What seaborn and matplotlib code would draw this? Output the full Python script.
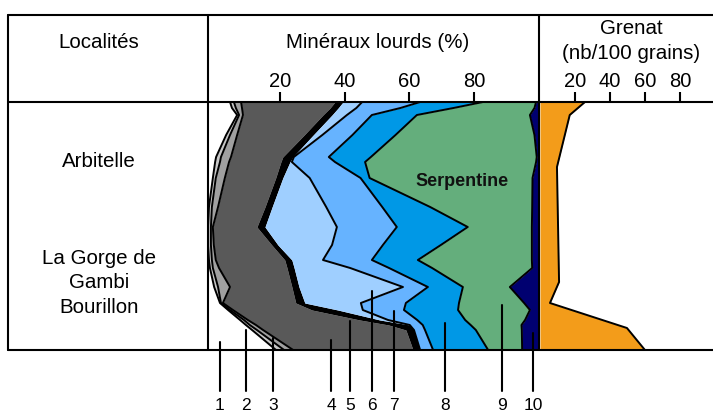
import numpy as np
import matplotlib.pyplot as plt
import seaborn as sns

sns.set_theme(style="white")
plt.rcParams['font.family'] = ['Liberation Sans', 'DejaVu Sans']
plt.rcParams['text.color'] = 'black'
plt.rcParams['xtick.color'] = 'black'

# --- DONNEES ---
# profondeur relative des niveaux echantillonnes (0 = haut de la colonne)
profondeur = [0, 6, 13, 33, 55, 60, 76, 105, 125, 143, 158, 166, 185, 201, 208, 218, 223, 228, 248]

# mineraux lourds (%) par classe 1 a 10
classe_1 = [6.8, 7.4, 9.0, 5.6, 2.5, 2.2, 1.5, 0.3, 0.0, 0.0, 0.3, 0.6, 1.9, 3.7, 6.2, 9.9, 11.7, 13.6, 21.0]
classe_2 = [1.2, 1.2, 0.6, 1.2, 1.5, 1.5, 0.9, 0.9, 0.9, 0.9, 0.9, 0.9, 1.2, 0.3, 0.6, 1.2, 1.2, 1.5, 2.5]
classe_3 = [2.2, 1.9, 1.2, 2.2, 3.1, 2.8, 2.8, 1.9, 0.6, 0.9, 1.2, 1.9, 3.7, 0.6, 0.9, 1.2, 1.9, 1.9, 2.8]
classe_4 = [29.0, 27.2, 24.7, 20.7, 16.0, 16.0, 15.7, 14.5, 13.6, 17.9, 21.3, 21.0, 19.1, 22.5, 24.4, 34.6, 41.0, 44.1, 37.0]
classe_5 = [2.5, 2.5, 2.8, 2.8, 3.1, 2.8, 2.2, 2.2, 2.5, 1.9, 2.2, 2.2, 2.2, 2.8, 8.0, 6.2, 6.5, 2.5, 2.2]
classe_6 = [5.9, 5.6, 4.6, 2.8, 0.3, 0.6, 8.3, 16.7, 22.2, 16.7, 9.6, 17.3, 32.1, 17.3, 7.7, 2.5, 0.0, 0.0, 0.0]
classe_7 = [17.9, 13.6, 7.7, 9.3, 10.8, 13.3, 15.7, 17.3, 18.5, 15.7, 15.1, 12.0, 7.7, 13.9, 12.7, 9.0, 4.0, 3.4, 4.0]
classe_8 = [19.4, 16.4, 13.9, 13.3, 13.0, 9.3, 2.8, 14.8, 21.9, 17.9, 14.2, 13.3, 10.8, 16.4, 16.7, 14.8, 14.8, 15.7, 17.0]
classe_9 = [16.4, 25.0, 34.9, 42.9, 51.2, 52.8, 50.3, 31.5, 19.8, 28.1, 35.2, 30.9, 14.5, 20.1, 22.2, 18.5, 15.7, 14.2, 10.5]
classe_10 = [0.9, 1.5, 2.8, 1.5, 0.6, 0.9, 1.9, 2.2, 2.2, 2.2, 2.2, 2.2, 9.0, 4.6, 2.8, 4.3, 5.2, 5.2, 5.2]

# grenat (nb/100 grains)
grenat_prof = [0, 13, 65, 180, 201, 226, 248]
grenat = [25.7, 17.0, 9.7, 10.9, 5.7, 49.7, 60.0]

ticks_min = [20, 40, 60, 80]
ticks_gr = [20, 40, 60, 80]
etiquettes = ['1', '2', '3', '4', '5', '6', '7', '8', '9', '10']

couleurs = ['#FFFFFF', '#C8C8C8', '#A0A0A0', '#595959', '#000000',
            '#9FCFFF', '#66B3FF', '#0098E6', '#64AE7C', '#000070']

# --- MISE EN PAGE (pixels) ---
W, H = 713, 412
X0 = -2.2   # bord gauche du panneau mineraux
FS = 14.8   # en-tetes et localites
FT = 14.5   # graduations


def rect(x0, y0, x1, y1):
    return [x0 / W, 1 - y1 / H, (x1 - x0) / W, (y1 - y0) / H]


fig = plt.figure(figsize=(W / 100, H / 100), dpi=100)
ax = fig.add_axes(rect(208, 102, 539, 350))
axg = fig.add_axes(rect(540, 102, 713, 350))

# --- MINERAUX LOURDS : aires empilees ---
classes = [classe_1, classe_2, classe_3, classe_4, classe_5,
           classe_6, classe_7, classe_8, classe_9, classe_10]
cum = X0 + np.cumsum(np.array(classes), axis=0)
gauche = np.full(len(profondeur), X0)
for i, c in enumerate(couleurs):
    droite = cum[i] if i < 9 else np.full(len(profondeur), 101)
    ax.fill_betweenx(profondeur, gauche, droite, color=c, linewidth=0)
    gauche = cum[i]

for i in [0, 1, 2, 5, 6, 7, 8]:
    sns.lineplot(x=cum[i], y=profondeur, orient='y', color='black',
                 linewidth=1.4, legend=False, ax=ax)

ax.set_xlim(X0, 100)
ax.set_ylim(248, 0)
ax.set_xlabel('')
ax.set_ylabel('')
ax.xaxis.tick_top()
ax.set_xticks(ticks_min)
ax.set_xticklabels([str(t) for t in ticks_min])
ax.set_yticks([])
ax.tick_params(axis='x', top=True, bottom=False, direction='out', length=7.5,
               width=1.5, color='black', labelsize=FT, pad=0.5, labelcolor='black')
for s in ax.spines.values():
    s.set_visible(False)
ax.text(76.2, 79, 'Serpentine', fontsize=13, fontweight='bold',
        ha='center', va='center', color='#111111')

# --- GRENAT ---
axg.fill_betweenx(grenat_prof, 0, grenat, color='#F39C1A', linewidth=0)
sns.lineplot(x=grenat, y=grenat_prof, orient='y', color='black',
             linewidth=1.4, legend=False, ax=axg)
axg.set_xlim(0, 98.9)
axg.set_ylim(248, 0)
axg.set_xlabel('')
axg.set_ylabel('')
axg.xaxis.tick_top()
axg.set_xticks(ticks_gr)
axg.set_xticklabels([str(t) for t in ticks_gr])
axg.set_yticks([])
axg.tick_params(axis='x', top=True, bottom=False, direction='out', length=7.5,
                width=1.5, color='black', labelsize=FT, pad=0.5, labelcolor='black')
for s in axg.spines.values():
    s.set_visible(False)

# --- CADRE, EN-TETES ET ETIQUETTES ---
ov = fig.add_axes([0, 0, 1, 1], zorder=5)
ov.set_xlim(0, W)
ov.set_ylim(H, 0)
ov.axis('off')
ov.patch.set_alpha(0)

lw = 1.5
for y in [15, 102, 350]:
    ov.plot([8, W], [y, y], color='black', lw=lw)
for x in [8, 208, 539]:
    ov.plot([x, x], [15, 350], color='black', lw=lw)

ov.text(99, 42, 'Localités', fontsize=FS, ha='center', va='center')
ov.text(378, 42, 'Minéraux lourds (%)', fontsize=FS, ha='center', va='center')
ov.text(631, 28, 'Grenat', fontsize=FS, ha='center', va='center')
ov.text(631, 53, '(nb/100 grains)', fontsize=FS, ha='center', va='center')
ov.text(99, 161, 'Arbitelle', fontsize=FS, ha='center', va='center')
ov.text(99, 283, 'La Gorge de\nGambi\nBourillon', fontsize=FS, ha='center',
        va='center', linespacing=1.36)

# numeros des classes avec traits de rappel
label_x = [220, 246, 273, 331, 350, 372, 394, 445, 502, 533]
label_top = [342, 330, 338, 340, 321, 291, 311, 323, 305, 333]
for x, yt, t in zip(label_x, label_top, etiquettes):
    ov.plot([x, x], [yt, 391], color='black', lw=1.5)
    ov.text(x, 405, t, fontsize=12.5, ha='center', va='center')

plt.savefig('out.png', dpi=100)
plt.close()
